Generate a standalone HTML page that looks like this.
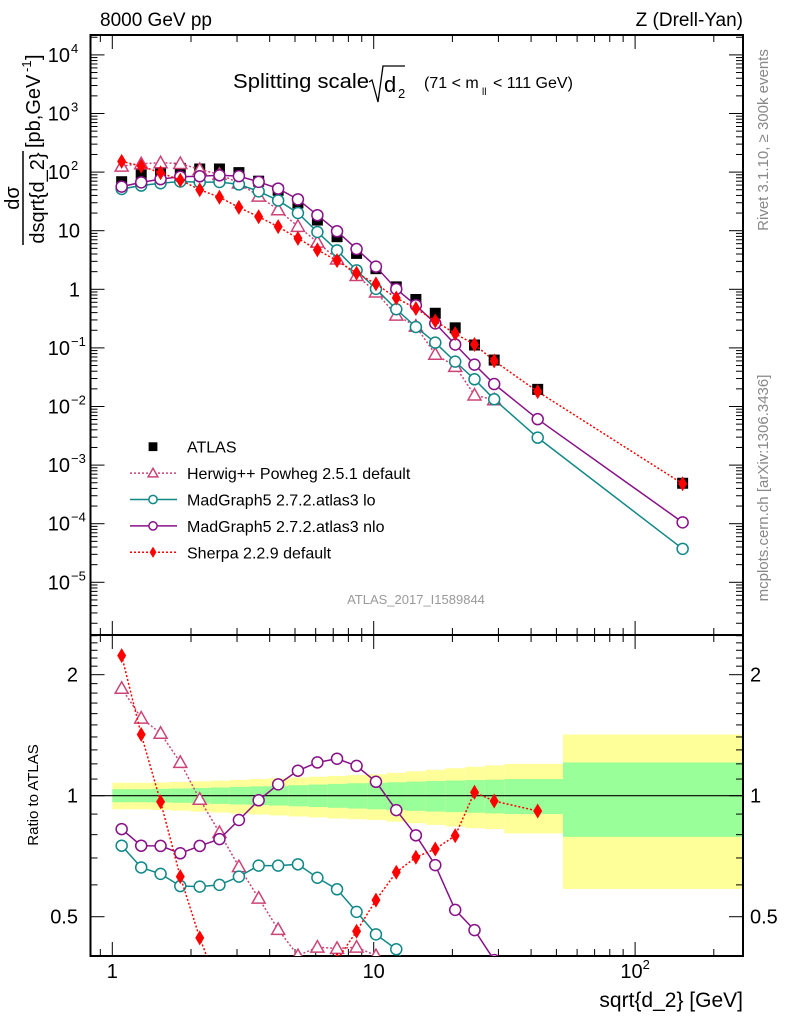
<!DOCTYPE html>
<html><head><meta charset="utf-8">
<style>
html,body{margin:0;padding:0;background:#fff;overflow:hidden;width:786px;height:1024px;}
svg{display:block;font-family:"Liberation Sans",Arial,sans-serif;}
</style></head>
<body>
<svg id="chart" width="786" height="1024" viewBox="0 0 786 1024" xmlns="http://www.w3.org/2000/svg">
<g id="bands"></g>
<g id="grid"></g>
<g id="series"></g>
<text x="100" y="26" font-size="19">8000 GeV pp</text>
<text x="743" y="26" font-size="19" text-anchor="end">Z (Drell-Yan)</text>
<g>
<text x="233" y="88" font-size="20" textLength="136" lengthAdjust="spacingAndGlyphs">Splitting scale</text>
<path d="M369,82 L372,80 L378,102 L383,66 L405,66" fill="none" stroke="#000" stroke-width="1.3"/>
<text x="384" y="92" font-size="22">d</text><text x="398" y="98" font-size="13">2</text>
<text x="424" y="88" font-size="16">(71 &lt; m</text><text x="482" y="95" font-size="10">ll</text><text x="493" y="88" font-size="16">&lt; 111 GeV)</text>
</g>
<g transform="translate(0,198) rotate(-90)">
<text x="0" y="19" font-size="20" text-anchor="middle">dσ</text>
<line x1="-47" y1="23" x2="47" y2="23" stroke="#000" stroke-width="1.5"/>
<text x="0" y="44" font-size="20" text-anchor="middle">dsqrt{d_2}</text>
<text x="50" y="40" font-size="20">[pb,GeV</text><text x="126" y="31" font-size="13">-1</text><text x="138" y="40" font-size="20">]</text>
</g>
<text transform="translate(768,140) rotate(-90)" font-size="15" fill="#888" text-anchor="middle">Rivet 3.1.10, ≥ 300k events</text>
<text transform="translate(768,488) rotate(-90)" font-size="15" fill="#888" text-anchor="middle">mcplots.cern.ch [arXiv:1306.3436]</text>
<text x="416" y="604" font-size="13" fill="#999" text-anchor="middle">ATLAS_2017_I1589844</text>
<text transform="translate(38,795) rotate(-90)" font-size="15" text-anchor="middle">Ratio to ATLAS</text>
<text x="743" y="1007" font-size="21" text-anchor="end">sqrt{d_2} [GeV]</text>
<g id="legend"></g>
</svg>
<script>
// ---- data ----
const binCenters = [1.086,1.29,1.53,1.82,2.16,2.57,3.05,3.63,4.31,5.13,6.09,7.24,8.6,10.2,12.2,14.5,17.2,20.5,24.3,28.9,42.4,152];
const binEdges = [1,1.189,1.413,1.679,1.995,2.371,2.818,3.35,3.98,4.73,5.62,6.68,7.94,9.44,11.2,13.3,15.8,18.8,22.4,26.6,31.6,53,400];
const atlasValues = [68.5,89,101,116,113,113,98,70,49,29.7,15.2,7.9,4.1,2.25,1.1,0.67,0.39,0.22,0.112,0.062,0.0196,0.00049];
const greenHi = [1.038,1.038,1.040,1.042,1.045,1.048,1.052,1.055,1.058,1.062,1.066,1.07,1.074,1.077,1.08,1.084,1.088,1.091,1.094,1.096,1.1,1.21];
const greenLo = [0.963,0.963,0.962,0.96,0.957,0.954,0.951,0.948,0.945,0.941,0.937,0.933,0.929,0.925,0.921,0.917,0.913,0.91,0.907,0.904,0.9,0.79];
const yellowHi = [1.077,1.077,1.079,1.082,1.086,1.09,1.095,1.1,1.105,1.11,1.115,1.12,1.125,1.13,1.14,1.15,1.16,1.17,1.18,1.19,1.2,1.42];
const yellowLo = [0.925,0.925,0.922,0.918,0.913,0.908,0.903,0.898,0.893,0.888,0.883,0.878,0.874,0.87,0.862,0.854,0.846,0.838,0.83,0.826,0.806,0.586];
const herwigRatio = [1.85,1.56,1.43,1.21,0.98,0.81,0.666,0.556,0.465,0.40,0.42,0.417,0.42,0.40,0.33,0.35,0.20,0.22,0.14,0.21,null,null];
const mgLoRatio = [0.751,0.663,0.639,0.596,0.594,0.6,0.629,0.67,0.67,0.675,0.625,0.585,0.514,0.452,0.415,0.34,0.315,0.265,0.26,0.214,0.15,0.076];
const mgNloRatio = [0.826,0.751,0.75,0.719,0.75,0.78,0.87,0.974,1.067,1.154,1.21,1.236,1.186,1.083,0.921,0.797,0.672,0.52,0.463,0.39,0.31,0.215];
const sherpaRatio = [2.23,1.42,0.966,0.629,0.443,0.33,0.255,0.247,0.239,0.249,0.31,0.39,0.46,0.55,0.645,0.703,0.737,0.795,1.02,0.97,0.916,0.98];
const ratioPanelMaxBin = [21,21,21,20];
const mainTickLabels = [["10","4"],["10","3"],["10","2"],["10",""],["1",""],["10","−1"],["10","−2"],["10","−3"],["10","−4"],["10","−5"]];
const mainTickPowers = [4,3,2,1,0,-1,-2,-3,-4,-5];
const ratioTicks = [2,1,0.5];
const ratioTickLabels = ["2","1","0.5"];
const xTickValues = [1,10,100];
const xTickLabels = [["1",""],["10",""],["10","2"]];

// ---- geometry ----
const L=90.5, R=743, T=35, MID=635, B=956;
const NS="http://www.w3.org/2000/svg";
const xs = v => 112.3 + 261.4*Math.log10(v);
const ym = v => 289.3 - 58.6*Math.log10(v);
const yr = v => 795.7 - 402*Math.log10(v);
function mk(tag, attrs, parent){const e=document.createElementNS(NS,tag);for(const k in attrs)e.setAttribute(k,attrs[k]);parent.appendChild(e);return e;}
const svg=document.getElementById('chart');
const gBands=document.getElementById('bands'), gGrid=document.getElementById('grid'), gS=document.getElementById('series'), gLeg=document.getElementById('legend');

const defs=mk('defs',{},svg);
const c1=mk('clipPath',{id:'cm'},defs); mk('rect',{x:L,y:T,width:R-L,height:MID-T},c1);
const c2=mk('clipPath',{id:'cr'},defs); mk('rect',{x:L,y:MID,width:R-L,height:B-MID},c2);
gBands.setAttribute('clip-path','url(#cr)');

for(let i=0;i<binCenters.length;i++){
  const x0=xs(binEdges[i]), x1=Math.min(xs(binEdges[i+1]),R);
  const ry=mk('rect',{x:x0,y:yr(yellowHi[i]),width:x1-x0,height:yr(yellowLo[i])-yr(yellowHi[i]),fill:'#ffff99'},gBands);
  
  
  const rg=mk('rect',{x:x0,y:yr(greenHi[i]),width:x1-x0,height:yr(greenLo[i])-yr(greenHi[i]),fill:'#99ff99'},gBands);
  
  
}
mk('line',{x1:L,y1:yr(1),x2:R,y2:yr(1),stroke:'#000','stroke-width':1.2},gGrid);

mk('rect',{x:L,y:T,width:R-L,height:MID-T,fill:'none',stroke:'#000','stroke-width':2},gGrid);
mk('rect',{x:L,y:MID,width:R-L,height:B-MID,fill:'none',stroke:'#000','stroke-width':2},gGrid);

function xticks(y0,dir){
  for(let d=-1;d<3;d++)for(let m=1;m<10;m++){
    const v=m*Math.pow(10,d); const x=xs(v); if(x<L||x>R)continue;
    const len=m===1?14:7;
    mk('line',{x1:x,y1:y0,x2:x,y2:y0+dir*len,stroke:'#000','stroke-width':1},gGrid);
  }
}
xticks(T,1); xticks(MID,-1); xticks(MID,1); xticks(B,-1);
xTickValues.forEach((v,i)=>{
  const t=mk('text',{x:xs(v),y:978,'font-size':20,'text-anchor':'middle'},svg);
  t.textContent=xTickLabels[i][0];
  
  
  if(xTickLabels[i][1]){const s=mk('tspan',{'font-size':13,dy:-9},t);s.textContent=xTickLabels[i][1];}
});

for(let p=-6;p<=4;p++)for(let m=1;m<10;m++){
  const v=m*Math.pow(10,p), y=ym(v); if(y<T||y>MID)continue;
  const len=m===1?14:7;
  mk('line',{x1:L,y1:y,x2:L+len,y2:y,stroke:'#000'},gGrid);
  mk('line',{x1:R,y1:y,x2:R-len,y2:y,stroke:'#000'},gGrid);
}
mainTickPowers.forEach((p,i)=>{
  const y=ym(Math.pow(10,p));
  const hasSup=mainTickLabels[i][1]!=="";
  const t=mk('text',{x:hasSup?70:80,y:y+7,'font-size':20,'text-anchor':'end'},svg);
  t.textContent=mainTickLabels[i][0];
  
  
  if(hasSup){const s=mk('text',{x:71,y:y-2,'font-size':13},svg);s.textContent=mainTickLabels[i][1];}
});

for(let v=0.4;v<=2.5001;v+=0.1){
  const y=yr(v); if(y<MID||y>B)continue;
  const major=[0.5,1,2].some(q=>Math.abs(q-v)<1e-6);
  const len=major?14:7;
  mk('line',{x1:L,y1:y,x2:L+len,y2:y,stroke:'#000'},gGrid);
  mk('line',{x1:R,y1:y,x2:R-len,y2:y,stroke:'#000'},gGrid);
}
ratioTicks.forEach((v,i)=>{
  const y=yr(v);
  const a=mk('text',{x:78,y:y+7,'font-size':20,'text-anchor':'end'},svg); a.textContent=ratioTickLabels[i];
  
  
  const b=mk('text',{x:750,y:y+7,'font-size':20},svg); b.textContent=ratioTickLabels[i];
  
  
});

function marker(type,x,y,color,parent,size){
  const s=size||1;
  if(type==='square'){return mk('rect',{x:x-5.5*s,y:y-5.5*s,width:11*s,height:11*s,fill:'#000'},parent);}
  if(type==='tri'){return mk('path',{d:`M${x},${y-6.5*s} L${x+6.5*s},${y+5*s} L${x-6.5*s},${y+5*s} Z`,fill:'#fff',stroke:color,'stroke-width':1.5},parent);}
  if(type==='circ'){return mk('circle',{cx:x,cy:y,r:5.5*s,fill:'#fff',stroke:color,'stroke-width':1.5},parent);}
  if(type==='diam'){return mk('path',{d:`M${x},${y-7.5*s} L${x+4.5*s},${y} L${x},${y+7.5*s} L${x-4.5*s},${y} Z`,fill:color},parent);}
}
const seriesDefs=[
  {name:'herwig',ratio:herwigRatio,color:'#cc4477',type:'tri',dash:'2,2'},
  {name:'madgraph-lo',ratio:mgLoRatio,color:'#118888',type:'circ',dash:null},
  {name:'madgraph-nlo',ratio:mgNloRatio,color:'#881188',type:'circ',dash:null},
  {name:'sherpa',ratio:sherpaRatio,color:'#ff0000',type:'diam',dash:'2,2'}
];
function drawSeries(sd,yfun,valfun,clip,panel){
  const g=mk('g',{'clip-path':`url(#${clip})`},gS);
  
  
  const pts=[];
  binCenters.forEach((c,i)=>{const v=valfun(i); if(v==null)return; pts.push([xs(c),yfun(v)]);});
  const pl=mk('polyline',{points:pts.map(p=>p.join(',')).join(' '),fill:'none',stroke:sd.color,'stroke-width':1.5},g);
  if(sd.dash)pl.setAttribute('stroke-dasharray',sd.dash);
  pts.forEach(p=>{const m=marker(sd.type,p[0],p[1],sd.color,g);
    
    });
}
const ga=mk('g',{'clip-path':'url(#cm)'},gS);


binCenters.forEach((c,i)=>{const m=marker('square',xs(c),ym(atlasValues[i]),'#000',ga);
  
  });
seriesDefs.forEach((sd,k)=>{
  drawSeries(sd,ym,i=>sd.ratio[i]==null?null:sd.ratio[i]*atlasValues[i],'cm','main');
  drawSeries(sd,yr,i=>i>ratioPanelMaxBin[k]?null:sd.ratio[i],'cr','ratio');
});

const legItems=[
  ['ATLAS','square','#000',null,false],
  ['Herwig++ Powheg 2.5.1 default','tri','#cc4477','2,2',true],
  ['MadGraph5 2.7.2.atlas3 lo','circ','#118888',null,true],
  ['MadGraph5 2.7.2.atlas3 nlo','circ','#881188',null,true],
  ['Sherpa 2.2.9 default','diam','#ff0000','2,2',true]
];
legItems.forEach((it,i)=>{
  const y=446.7+26.4*i;
  const g=mk('g',{},gLeg);
  
  
  if(it[4]){const l=mk('line',{x1:130,y1:y,x2:177,y2:y,stroke:it[2],'stroke-width':1.5},g); if(it[3])l.setAttribute('stroke-dasharray',it[3]);}
  marker(it[1],153,y,it[2],g,it[1]==='square'?0.8:0.75);
  const t=mk('text',{x:187,y:y+6,'font-size':16},g); t.textContent=it[0];
});
</script>
</body></html>
